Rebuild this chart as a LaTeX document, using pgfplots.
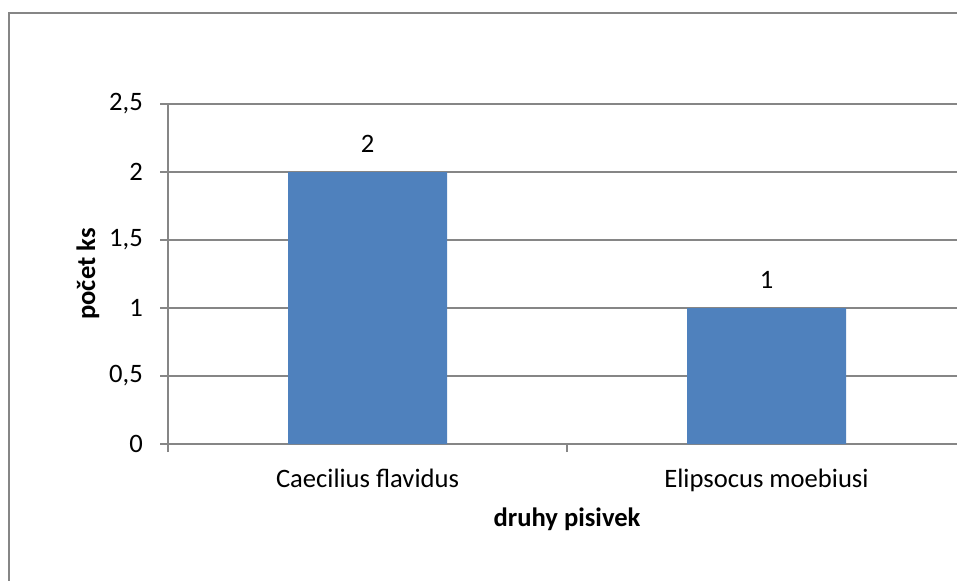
\documentclass[border=0pt]{standalone}
\usepackage{fontspec}
\setmainfont{Carlito}
\usepackage{pgfplots}
\pgfplotsset{compat=1.18}
\definecolor{barblue}{HTML}{4F81BD}
\definecolor{axgray}{HTML}{868686}
\newcommand\chartfont{\fontsize{13.3}{15}\selectfont}
\begin{document}
\chartfont
\begin{tikzpicture}
% 1 px of the reference = 0.5pt
\path[use as bounding box] (0,0) rectangle (478.5pt,-290pt);
\draw[axgray, line width=1pt] (4.5pt,-6.5pt) rectangle (500pt,-310pt);
\begin{axis}[
  at={(84pt,-222pt)}, anchor=south west,
  scale only axis, width=399pt, height=170pt,
  xmin=-0.5, xmax=1.5, ymin=0, ymax=2.5,
  axis x line*=bottom, axis y line*=left,
  axis line style={axgray, line width=0.6pt},
  ytick={0,0.5,1,1.5,2,2.5},
  ymajorgrids, grid style={axgray, line width=0.6pt},
  tick align=outside, major tick length=4pt,
  tick style={axgray, line width=0.6pt},
  xtick={-0.5,0.5,1.5}, xticklabels={},
  extra x ticks={0,1}, extra x tick labels={Caecilius flavidus, Elipsocus moebiusi},
  extra x tick style={grid=none, major tick length=0pt,
    xticklabel style={yshift=-8pt}},
  yticklabel style={xshift=-4pt},
  /pgf/number format/use comma,
  /pgf/number format/assume math mode=true,
  ticklabel style={font=\chartfont},
  xlabel={\textbf{druhy pisivek}},
  xlabel style={at={(axis description cs:0.5,-0.244)}, anchor=base},
  ylabel={\textbf{počet ks}},
  ylabel style={at={(axis description cs:-0.1003,0.5)}, anchor=center},
  ybar, bar width=79.5pt,
  nodes near coords,
  every node near coord/.append style={anchor=base, yshift=9.75pt, font=\chartfont},
]
\addplot[fill=barblue, draw=none] coordinates {(0,2) (1,1)};
\end{axis}
\end{tikzpicture}
\end{document}
